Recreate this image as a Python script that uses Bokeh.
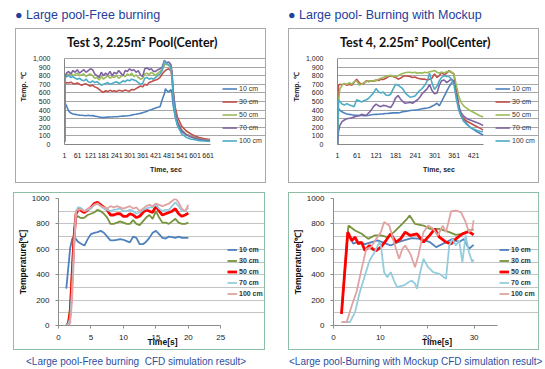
from bokeh.plotting import figure
from bokeh.layouts import column, row
from bokeh.models import (Div, Legend, LegendItem, Label, NumeralTickFormatter,
                          FixedTicker, Range1d)
from bokeh.embed import file_html
from bokeh.resources import INLINE

# ---------------- data ----------------
labels = ["10 cm", "30 cm", "50 cm", "70 cm", "100 cm"]

# Test 3 (free burning), time in seconds
t3 = [1, 4, 10, 20, 30, 40, 50, 60, 70, 80,
      90, 100, 110, 120, 130, 140, 150, 160, 170, 180,
      190, 200, 210, 220, 230, 240, 250, 260, 270, 280,
      290, 300, 310, 320, 330, 340, 350, 360, 370, 380,
      390, 400, 410, 420, 430, 440, 450, 460, 465, 470,
      480, 490, 495, 500, 510, 520, 540, 560, 580, 600,
      620, 640, 660, 670]
t3_10 = [30, 480, 450, 390, 365, 355, 350, 345, 342, 340,
         338, 335, 340, 335, 338, 330, 325, 320, 315, 312,
         315, 318, 320, 320, 322, 322, 325, 328, 330, 332,
         335, 338, 342, 348, 352, 358, 362, 370, 378, 388,
         398, 405, 415, 425, 432, 440, 520, 590, 650, 630,
         610, 640, 600, 460, 320, 230, 150, 115, 95, 80,
         65, 55, 48, 45]
t3_30 = [30, 700, 720, 715, 725, 710, 705, 715, 700, 690,
         700, 705, 690, 680, 690, 670, 660, 640, 620, 605,
         625, 615, 630, 620, 625, 615, 630, 625, 620, 635,
         625, 620, 640, 635, 650, 665, 680, 670, 700, 690,
         720, 730, 740, 750, 760, 780, 820, 850, 860, 870,
         880, 860, 780, 620, 430, 320, 210, 160, 125, 100,
         82, 70, 62, 58]
t3_50 = [30, 780, 820, 810, 830, 800, 815, 830, 800, 810,
         820, 790, 810, 820, 800, 770, 780, 750, 790, 760,
         780, 800, 770, 790, 780, 800, 770, 790, 810, 790,
         820, 800, 830, 790, 810, 780, 760, 770, 820, 830,
         810, 840, 820, 800, 830, 850, 870, 920, 940, 930,
         920, 900, 820, 620, 380, 270, 170, 120, 95, 78,
         65, 55, 50, 48]
t3_70 = [30, 790, 830, 850, 820, 860, 840, 870, 830, 850,
         870, 840, 860, 880, 870, 820, 800, 780, 840, 800,
         830, 810, 850, 800, 840, 820, 860, 830, 800, 860,
         850, 880, 860, 870, 840, 860, 810, 790, 880, 890,
         870, 880, 850, 850, 870, 880, 900, 980, 960, 950,
         960, 930, 850, 640, 380, 260, 160, 115, 90, 72,
         60, 52, 46, 45]
t3_100 = [30, 770, 790, 800, 780, 790, 770, 760, 770, 750,
          740, 760, 730, 720, 740, 720, 730, 710, 690, 700,
          710, 720, 700, 710, 720, 730, 710, 720, 740, 730,
          750, 740, 760, 750, 740, 720, 700, 710, 770, 780,
          760, 770, 760, 780, 800, 820, 860, 970, 960, 940,
          930, 890, 800, 560, 330, 220, 120, 85, 65, 55,
          45, 40, 38, 36]

# Test 4 (burning with mockup), time in seconds
t4 = [1, 4, 8, 15, 22, 30, 38, 45, 52, 60,
      68, 75, 82, 90, 98, 105, 112, 120, 128, 135,
      142, 150, 158, 165, 172, 180, 188, 195, 202, 210,
      218, 225, 232, 240, 248, 255, 262, 270, 278, 285,
      292, 300, 308, 315, 322, 330, 338, 345, 352, 360,
      368, 375, 382, 390, 400, 410, 420, 430, 440, 450]
t4_10 = [0, 420, 400, 380, 365, 355, 350, 345, 342, 340,
         338, 340, 336, 335, 340, 345, 348, 350, 352, 355,
         356, 360, 362, 365, 368, 370, 368, 372, 380, 385,
         390, 395, 398, 400, 405, 410, 415, 420, 425, 430,
         445, 460, 480, 450, 500, 560, 620, 670, 710, 740,
         620, 460, 340, 280, 240, 200, 175, 150, 130, 110]
t4_30 = [0, 690, 700, 695, 705, 690, 700, 690, 720, 760,
         720, 700, 710, 740, 730, 740, 735, 750, 745, 760,
         755, 770, 790, 800, 790, 780, 760, 770, 790, 800,
         795, 790, 780, 785, 770, 765, 760, 760, 750, 760,
         770, 820, 780, 800, 840, 810, 830, 860, 840, 820,
         600, 440, 340, 300, 270, 250, 230, 210, 190, 170]
t4_50 = [0, 480, 640, 690, 710, 700, 720, 700, 730, 740,
         690, 700, 720, 730, 740, 735, 745, 740, 760, 770,
         780, 790, 800, 805, 795, 790, 800, 815, 825, 835,
         840, 840, 835, 840, 830, 835, 830, 840, 835, 845,
         850, 860, 840, 830, 840, 835, 845, 850, 845, 820,
         680, 560, 490, 450, 420, 395, 375, 355, 335, 320]
t4_70 = [0, 150, 220, 265, 285, 300, 305, 310, 320, 330,
         335, 350, 345, 340, 370, 400, 440, 470, 450, 440,
         455, 450, 440, 430, 470, 540, 570, 530, 500, 480,
         485, 490, 480, 500, 520, 550, 590, 620, 650, 700,
         630, 590, 600, 690, 740, 750, 720, 740, 760, 740,
         560, 430, 370, 330, 300, 285, 270, 255, 240, 220]
t4_100 = [0, 520, 500, 470, 460, 475, 460, 450, 440, 520,
          510, 495, 510, 520, 540, 570, 600, 650, 610, 600,
          610, 575, 570, 585, 640, 700, 690, 670, 650, 600,
          570, 550, 555, 565, 600, 630, 650, 690, 740, 830,
          720, 640, 680, 740, 780, 800, 790, 790, 760, 700,
          520, 400, 330, 270, 230, 200, 180, 165, 155, 150]

# CFD, free burning, time in s
c1_t = [1.2, 1.5, 1.8, 2.1, 2.4, 2.7, 3.0, 3.3, 3.6, 4.0,
        4.5, 5.0, 5.5, 6.0, 6.5, 7.0, 7.5, 8.0, 8.5, 9.0,
        9.5, 10, 10.5, 11, 11.5, 12, 12.5, 13, 13.5, 14,
        14.5, 15, 15.5, 16, 16.5, 17, 17.5, 18, 18.5, 19,
        19.5, 20]
c1_10 = [290, 450, 610, 680, 700, 680, 660, 650, 640, 630,
         680, 720, 730, 735, 745, 730, 700, 670, 670, 675,
         680, 675, 665, 655, 700, 690, 640, 640, 660, 690,
         730, 745, 720, 690, 685, 700, 695, 690, 700, 690,
         690, 690]
c1_30 = [10, 20, 150, 450, 750, 850, 860, 850, 845, 850,
         870, 880, 890, 910, 900, 880, 850, 800, 800, 810,
         820, 810, 800, 800, 830, 800, 790, 820, 850, 870,
         840, 900, 850, 810, 810, 800, 820, 840, 810, 800,
         800, 810]
c1_50 = [0, 10, 100, 400, 700, 880, 910, 920, 900, 890,
         910, 930, 960, 970, 950, 930, 910, 870, 870, 880,
         880, 860, 860, 880, 870, 850, 860, 890, 910, 900,
         890, 940, 900, 870, 880, 890, 900, 920, 880, 860,
         870, 885]
c1_70 = [5, 10, 60, 300, 650, 900, 930, 930, 920, 900,
         910, 920, 950, 960, 940, 920, 910, 900, 910, 915,
         920, 900, 900, 910, 900, 880, 890, 910, 920, 930,
         930, 950, 920, 900, 910, 910, 940, 970, 940, 900,
         900, 930]
c1_100 = [0, 0, 20, 200, 600, 900, 910, 920, 910, 900,
          920, 930, 950, 960, 940, 930, 920, 940, 930, 940,
          930, 920, 930, 940, 920, 930, 900, 920, 940, 950,
          940, 960, 950, 940, 950, 960, 980, 1000, 970, 920,
          900, 950]

# CFD, burning with mockup, time in s
c2_t10 = [1.7, 3.0, 3.2, 4.2, 5.3, 6.7, 8.0, 9.4, 10.5, 12.2, 13.6,
          15.0, 16.7, 18.5, 20.6, 21.9, 24.0, 25.4, 26.8, 27.8, 28.9, 29.9]
c2_10 = [92, 700, 720, 645, 660, 640, 655, 670, 655, 630, 655,
         670, 688, 682, 656, 617, 656, 682, 656, 682, 604, 635]
c2_t30 = [1.7, 3.0, 3.2, 4.6, 6.0, 7.4, 8.75, 10.1, 11.5, 12.9, 14.3,
          15.7, 16.25, 17.4, 19.2, 20.6, 22.6, 24.7, 26.1, 27.5, 28.9, 29.9]
c2_30 = [92, 720, 787, 748, 722, 682, 709, 709, 695, 735, 787,
         840, 866, 800, 787, 761, 761, 735, 714, 722, 748, 756]
c2_t50 = [1.7, 3.05, 3.9, 4.6, 5.3, 6.0, 6.7, 7.7, 8.4, 9.1,
          10.1, 11.2, 12.2, 13.3, 14.3, 15.3, 16.4, 17.8, 19.2, 20.6,
          21.6, 22.6, 24.0, 25.1, 26.1, 27.5, 28.9, 29.9]
c2_50 = [92, 735, 669, 695, 643, 656, 590, 630, 600, 590,
         617, 669, 722, 656, 682, 735, 709, 722, 656, 714,
         761, 695, 656, 643, 682, 722, 740, 714]
c2_t70 = [1.7, 3.5, 4.6, 5.6, 6.7, 7.7, 8.75, 9.8, 10.1, 10.8,
          11.5, 12.2, 12.9, 13.6, 15.0, 16.0, 16.7, 17.4, 17.8, 18.5,
          19.2, 20.2, 21.25, 22.6, 24.0, 24.7, 25.4, 26.1, 26.8, 27.5,
          28.2, 28.9, 29.6, 29.9]
c2_70 = [26, 26, 105, 262, 394, 512, 577, 656, 630, 420,
         380, 420, 354, 302, 315, 341, 354, 330, 289, 420,
         525, 459, 420, 407, 367, 630, 682, 630, 669, 499,
         709, 577, 500, 520]
c2_t100 = [1.7, 2.8, 3.9, 4.9, 6.0, 7.0, 8.0, 9.1, 10.1, 10.8,
           11.9, 12.9, 14.0, 14.7, 15.3, 16.4, 17.4, 18.1, 19.2, 20.2,
           21.25, 22.3, 23.3, 24.0, 25.1, 26.1, 27.2, 28.2, 28.9, 29.6,
           29.9]
c2_100 = [26, 26, 157, 262, 446, 604, 617, 682, 735, 814,
          787, 656, 525, 604, 630, 564, 459, 551, 735, 787,
          761, 709, 787, 735, 900, 905, 892, 814, 735, 761,
          827]

test_colors = ["#4F81BD", "#C0504D", "#9BBB59", "#8064A2", "#4BACC6"]
cfd_colors = ["#4F81BD", "#77933C", "#FF0000", "#93CDDD", "#E0A3A2"]
cfd_widths = [1.8, 1.8, 2.8, 1.8, 1.8]

HEAD_COLOR = "#23409A"
CAP_COLOR = "#2B4FA2"
FONT = "Liberation Sans"


def test_chart(title, t, series, xmax, xticks):
    # box 251x155 (border drawn inside it); the plotting frame runs from the
    # y axis to the right edge and from the top edge down to the time axis,
    # so the legend and the heading sit inside it; axis and grid are
    # bounded to the data area
    w, h = 251, 155
    left, frame_h, top_gap, grid_w = 46, 115, 29, 147
    frame_w = w - left
    px_per_s = grid_w / (xmax - 1)
    x_end = 1 + frame_w / px_per_s
    y_end = 1000 * frame_h / (frame_h - top_gap)
    p = figure(width=w, height=h, x_range=Range1d(1, x_end),
               y_range=Range1d(0, y_end), output_backend="svg",
               toolbar_location=None, min_border_left=left,
               min_border_right=0, min_border_top=0,
               min_border_bottom=h - frame_h)
    p.styles = {"border": "1px solid #a9a9a9"}
    p.outline_line_color = None
    p.xgrid.grid_line_color = None
    p.ygrid.grid_line_color = "#a6a6a6"
    p.ygrid.bounds = (1, xmax)
    p.yaxis.ticker = FixedTicker(ticks=list(range(0, 1001, 100)))
    p.xaxis.ticker = FixedTicker(ticks=xticks)
    p.yaxis.bounds = (0, 1000)
    p.xaxis.bounds = (1, xmax)
    p.yaxis.formatter = NumeralTickFormatter(format="0,0")
    for ax in (p.xaxis, p.yaxis):
        ax.axis_line_color = "#868686"
        ax.major_tick_line_color = None
        ax.minor_tick_line_color = None
        ax.major_label_text_font = FONT
        ax.major_label_text_font_size = "7px"
        ax.major_label_text_color = "#222222"
        ax.axis_label_text_font = FONT
        ax.axis_label_text_font_size = "7px"
        ax.axis_label_text_font_style = "bold"
        ax.axis_label_text_color = "#222222"
    p.yaxis.major_label_standoff = 8
    p.yaxis.axis_label = "Temp. ℃"
    p.yaxis.axis_label_standoff = 3
    p.xaxis.major_label_standoff = 2
    p.xaxis.axis_label = "Time, sec"
    p.xaxis.axis_label_standoff = 5

    items = []
    for name, ys, c in zip(labels, series, test_colors):
        r = p.line(t, ys, line_color=c, line_width=1.6)
        items.append(LegendItem(label=name, renderers=[r]))
    leg = Legend(items=items, location=(grid_w + 11, -1), padding=0, margin=0,
                 spacing=4, glyph_width=15, glyph_height=9, label_height=9,
                 label_standoff=2, label_text_font=FONT,
                 label_text_font_size="7px", label_text_color="#333333",
                 background_fill_alpha=0, border_line_color=None)
    p.add_layout(leg)
    # heading centred on the box, 16 px above the 1,000 line
    title_x = 1 + ((w - 2) / 2 - left) / px_per_s
    title_y = 1000 + 16 * (y_end / frame_h)
    p.add_layout(Label(x=title_x, y=title_y, text=title,
                       text_align="center", text_baseline="middle",
                       text_font="Lato", text_font_style="bold",
                       text_font_size="12.5px", text_color="#111111"))
    return p


def cfd_chart(series, xmax, xticks, w, left, grid_w, legend_x):
    h = 158
    bottom = h - 132
    px_per_s = grid_w / xmax
    x_end = (w - left) / px_per_s
    p = figure(width=w, height=h, x_range=Range1d(0, x_end),
               y_range=Range1d(0, 1000), output_backend="svg",
               toolbar_location=None, min_border_left=left,
               min_border_right=0, min_border_top=5,
               min_border_bottom=bottom)
    p.styles = {"border": "1px solid #8dbfa6"}
    p.outline_line_color = None
    p.xgrid.grid_line_color = None
    p.ygrid.grid_line_color = "#c4c4c4"
    p.ygrid.minor_grid_line_color = "#c4c4c4"
    p.ygrid.bounds = (0, xmax)
    p.xaxis.bounds = (0, xmax)
    p.yaxis.ticker = FixedTicker(ticks=list(range(0, 1001, 200)),
                                 minor_ticks=list(range(0, 1001, 100)))
    p.xaxis.ticker = FixedTicker(ticks=xticks)
    for ax in (p.xaxis, p.yaxis):
        ax.axis_line_color = "#8c8c8c"
        ax.major_tick_line_color = "#8c8c8c"
        ax.major_tick_out = 3
        ax.major_tick_in = 0
        ax.minor_tick_line_color = None
        ax.major_label_text_font = FONT
        ax.major_label_text_font_size = "8px"
        ax.major_label_text_color = "#222222"
        ax.axis_label_text_font = FONT
        ax.axis_label_text_font_style = "bold"
        ax.axis_label_text_color = "#111111"
    p.yaxis.major_label_standoff = 5
    p.yaxis.axis_label = "Temperature[℃]"
    p.yaxis.axis_label_text_font_size = "8.5px"
    p.yaxis.axis_label_standoff = 1
    p.xaxis.major_label_standoff = 6
    p.xaxis.axis_label = "Time[s]"
    p.xaxis.axis_label_text_font_size = "8.5px"
    p.xaxis.axis_label_standoff = -6

    items = []
    for name, (xs, ys), c, lw in zip(labels, series, cfd_colors, cfd_widths):
        r = p.line(xs, ys, line_color=c, line_width=lw)
        items.append(LegendItem(label=name, renderers=[r]))
    leg = Legend(items=items, location=(legend_x, 27), padding=0, margin=0,
                 spacing=2, glyph_width=10, glyph_height=9, label_height=9,
                 label_standoff=2, label_text_font=FONT,
                 label_text_font_size="7px", label_text_font_style="bold",
                 label_text_color="#333333", background_fill_alpha=0,
                 border_line_color=None)
    p.add_layout(leg)
    return p


# ---------------- top: measured ----------------
p1 = test_chart("Test 3, 2.25m² Pool(Center)", t3,
                [t3_10, t3_30, t3_50, t3_70, t3_100], 670,
                list(range(1, 662, 60)))
p1.margin = (0, 6, 0, 15)
p2 = test_chart("Test 4, 2.25m² Pool(Center)", t4,
                [t4_10, t4_30, t4_50, t4_70, t4_100], 450,
                list(range(1, 422, 60)))
p2.margin = (0, 6, 0, 16)

# ---------------- bottom: CFD ----------------
p3 = cfd_chart([(c1_t, c1_10), (c1_t, c1_30), (c1_t, c1_50),
                (c1_t, c1_70), (c1_t, c1_100)],
               25, [0, 5, 10, 15, 20, 25], 252, 38, 167, 169)
p3.margin = (9, 7, 0, 13)

p4 = cfd_chart([(c2_t10, c2_10), (c2_t30, c2_30), (c2_t50, c2_50),
                (c2_t70, c2_70), (c2_t100, c2_100)],
               35, [0, 10, 20, 30], 251, 39, 168, 166)
p4.margin = (9, 6, 0, 16)


def header(text, w, pad):
    html = (f'<div style="padding-left:{pad}px;padding-top:7px;'
            f'font-family:{FONT};font-size:12.5px;color:{HEAD_COLOR};'
            f'white-space:nowrap;">{text}</div>')
    return Div(text=html, width=w, height=28, margin=0)


def caption(text, w, pad):
    html = (f'<div style="padding-left:{pad}px;padding-top:5px;'
            f'font-family:{FONT};font-size:10px;color:{CAP_COLOR};'
            f'white-space:nowrap;">{text}</div>')
    return Div(text=html, width=w, height=19, margin=0)


h1 = header("● Large pool-Free burning", 272, 15)
h2 = header("● Large pool- Burning with Mockup", 273, 16)
c1 = caption("&lt;Large pool-Free burning&nbsp; CFD simulation result&gt;", 272, 26)
c2 = caption("&lt;Large pool-Burning with Mockup CFD simulation result&gt;", 273, 17)

page = column(row(h1, h2), row(p1, p2), row(p3, p4), row(c1, c2))

open("out.html", "w").write(file_html(page, INLINE))
